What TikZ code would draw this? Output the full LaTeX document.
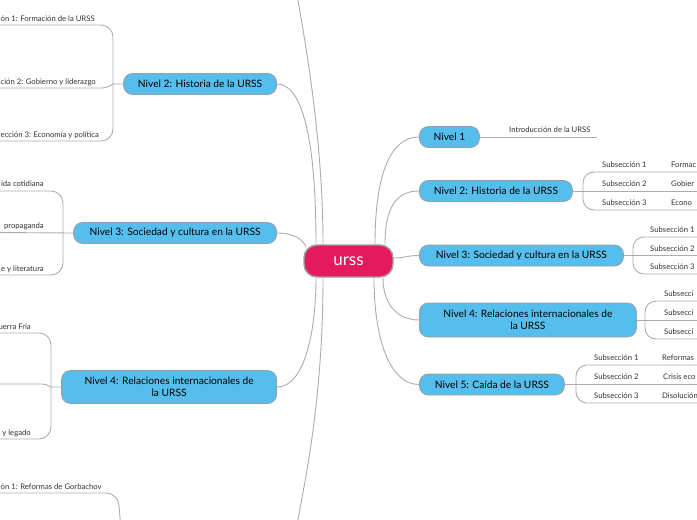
\documentclass[tikz,border=0pt]{standalone}
\usepackage{fontspec}
\setmainfont{Lato}
\usepackage{xcolor}
\usepackage{tikz}
\usetikzlibrary{calc, backgrounds}
\definecolor{levelBlue}{RGB}{86, 190, 236}
\definecolor{rootPink}{RGB}{229, 25, 94}
\definecolor{edgeGray}{RGB}{172, 172, 172}
\definecolor{frameGray}{RGB}{158, 158, 158}
\definecolor{labelText}{RGB}{50, 50, 50}

\tikzset{
  levelBox/.style={draw=frameGray, fill=levelBlue, line width=0.8, rounded corners=9,
    minimum height=21, inner sep=2, align=center, font=\fontsize{10.2}{12}\selectfont},
  rootBox/.style={draw=frameGray, fill=rootPink, line width=1.4, rounded corners=13,
    text=white, font=\fontsize{17}{18}\selectfont},
  branch/.style={draw=edgeGray, line width=0.9},
  subLabel/.style={inner sep=0, text=labelText, font=\fontsize{7.7}{8.5}\selectfont},
}

\begin{document}
\begin{tikzpicture}[x=1pt, y=-1pt]
  \useasboundingbox (0,0) rectangle (697,520);
  \clip (0,0) rectangle (697,520);

  % Central topic
  \node[rootBox, minimum width=89, minimum height=32] (urss) at (348.5,261) {urss};

  % Right side levels
  \node[levelBox, anchor=west, minimum width=60] (n1r) at (419,137) {Nivel 1};
  \node[levelBox, anchor=west, minimum width=153] (n2r) at (419,191) {Nivel 2: Historia de la URSS};
  \node[levelBox, anchor=west, minimum width=204] (n3r) at (419,255.5) {Nivel 3: Sociedad y cultura en la URSS};
  \node[levelBox, anchor=west, minimum width=217, minimum height=34] (n4r) at (419,320)
    {Nivel 4: Relaciones internacionales de\\la URSS};
  \node[levelBox, anchor=west, minimum width=145] (n5r) at (419,384.5) {Nivel 5: Caída de la URSS};

  % Left side levels
  \node[levelBox, anchor=east, minimum width=153] (n2l) at (277,84) {Nivel 2: Historia de la URSS};
  \node[levelBox, anchor=east, minimum width=203] (n3l) at (277,233) {Nivel 3: Sociedad y cultura en la URSS};
  \node[levelBox, anchor=east, minimum width=215, minimum height=33] (n4l) at (277,387)
    {Nivel 4: Relaciones internacionales de\\la URSS};

  % Branches that leave the view
  \coordinate (upOut) at (297,-5);
  \coordinate (downOut) at (297,525);

  \begin{scope}[on background layer]
    % Connectors to the right
    \draw[branch] ($(urss.north)+(26.5,0)$) .. controls (375,175) and (390,137) .. (n1r.west);
    \draw[branch] ($(urss.north)+(36.5,0)$) .. controls (385,205) and (398,191) .. (n2r.west);
    \draw[branch] ($(urss.east)+(0,-3)$) .. controls (405,258) and (407,255.5) .. (n3r.west);
    \draw[branch] ($(urss.south)+(34.5,0)$) .. controls (383,305) and (398,320) .. (n4r.west);
    \draw[branch] ($(urss.south)+(25.5,0)$) .. controls (374,340) and (390,384.5) .. (n5r.west);

    % Connectors to the left
    \draw[branch] ($(urss.north)+(-25.5,0)$) .. controls (323,140) and (305,40) .. (upOut);
    \draw[branch] ($(urss.north)+(-32.5,0)$) .. controls (316,130) and (300,84) .. (n2l.east);
    \draw[branch] ($(urss.north west)+(3,3)$) .. controls (303,240) and (295,233) .. (n3l.east);
    \draw[branch] ($(urss.south)+(-32.5,0)$) .. controls (316,330) and (305,387) .. (n4l.east);
    \draw[branch] ($(urss.south)+(-25.5,0)$) .. controls (323,400) and (305,480) .. (downOut);
  \end{scope}

  % Nivel 1 leaf
  \draw[branch] (n1r.east) -- (597,137);
  \node[subLabel, anchor=base west] (intro) at (509,132) {Introducción de la URSS};

  % Brackets on the right
  \draw[branch] (n2r.east) -- (700,191);
  \draw[branch, rounded corners=11] (700,172) -- (583,172) -- (583,210) -- (700,210);
  \draw[branch] (n3r.east) -- (700,255.5);
  \draw[branch, rounded corners=11] (700,237) -- (633,237) -- (633,274) -- (700,274);
  \draw[branch] (n4r.east) -- (700,320);
  \draw[branch, rounded corners=11] (700,301) -- (645,301) -- (645,339) -- (700,339);
  \draw[branch] (n5r.east) -- (700,384.5);
  \draw[branch, rounded corners=11] (700,365) -- (576,365) -- (576,403) -- (700,403);

  % Labels on the right
  \node[subLabel, anchor=base west] (s21) at (602,167) {Subsección 1};
  \node[subLabel, anchor=base west] (s22) at (602,186) {Subsección 2};
  \node[subLabel, anchor=base west] (s23) at (602,205) {Subsección 3};
  \node[subLabel, anchor=base west] (t21) at (671,167) {Formac};
  \node[subLabel, anchor=base west] (t22) at (671,186) {Gobier};
  \node[subLabel, anchor=base west] (t23) at (671,205) {Econo};
  \node[subLabel, anchor=base west] (s31) at (650,232.5) {Subsección 1};
  \node[subLabel, anchor=base west] (s32) at (650,251) {Subsección 2};
  \node[subLabel, anchor=base west] (s33) at (650,269.5) {Subsección 3};
  \node[subLabel, anchor=base west] (s41) at (664,296.5) {Subsecci};
  \node[subLabel, anchor=base west] (s42) at (664,315) {Subsecci};
  \node[subLabel, anchor=base west] (s43) at (664,334.5) {Subsecci};
  \node[subLabel, anchor=base west] (s51) at (594,360.5) {Subsección 1};
  \node[subLabel, anchor=base west] (s52) at (594,379.5) {Subsección 2};
  \node[subLabel, anchor=base west] (s53) at (594,398.5) {Subsección 3};
  \node[subLabel, anchor=base west] (t51) at (662,360.5) {Reformas};
  \node[subLabel, anchor=base west] (t52) at (663,379.5) {Crisis eco};
  \node[subLabel, anchor=base west] (t53) at (662,398.5) {Disolución};

  % Brackets on the left
  \draw[branch, rounded corners=12] (-5,25) -- (113,25) -- (113,141) -- (-5,141);
  \draw[branch] (n2l.west) -- (113,84) .. controls (106,88) .. (98,88) -- (-5,88);
  \draw[branch, rounded corners=12] (-5,191) -- (63,191) -- (63,275) -- (-5,275);
  \draw[branch] (n3l.west) -- (-5,232.5);
  \draw[branch, rounded corners=12] (-5,333) -- (51,333) -- (51,439) -- (-5,439);
  \draw[branch] (n4l.west) -- (51,387) .. controls (45,384) .. (38,384) -- (-5,384);
  \draw[branch, rounded corners=12] (-5,493) -- (118,493) -- (121,530);

  % Labels on the left
  \node[subLabel, anchor=base west] (l21) at (0.5,21) {ón 1: Formación de la URSS};
  \node[subLabel, anchor=base west] (l22) at (0.5,84) {ción 2: Gobierno y liderazgo};
  \node[subLabel, anchor=base west] (l23) at (0.5,137) {ección 3: Economía y política};
  \node[subLabel, anchor=base east] (l31) at (44,186.5) {ida cotidiana};
  \node[subLabel, anchor=base east] (l32) at (44,228.5) {propaganda};
  \node[subLabel, anchor=base east] (l33) at (44,271) {e y literatura};
  \node[subLabel, anchor=base east] (l41) at (31,329) {uerra Fría};
  \node[subLabel, anchor=base east] (l43) at (31,435) {y legado};
  \node[subLabel, anchor=base west] (l51) at (0.5,489) {ón 1: Reformas de Gorbachov};
\end{tikzpicture}
\end{document}
